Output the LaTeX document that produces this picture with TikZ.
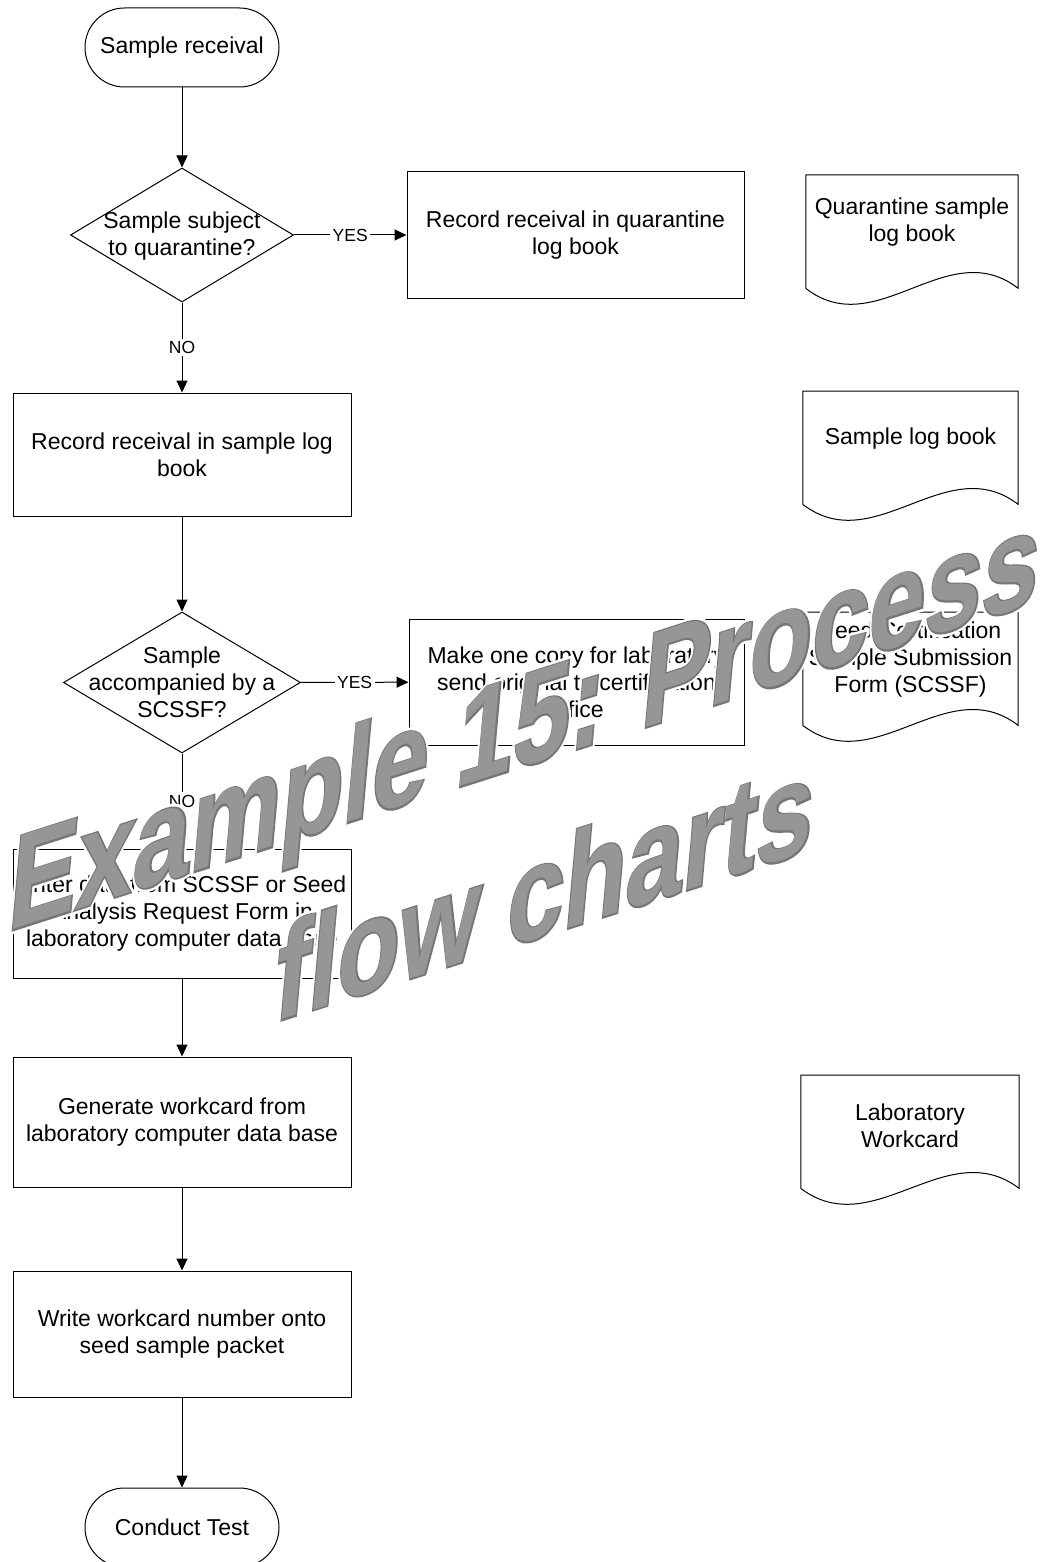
\documentclass[tikz,border=0pt]{standalone}
\usepackage{fontspec}
\setmainfont{Liberation Sans}
% three weights of the banner lettering: white halo, grey edge, grey face
\newfontfamily\wmhalofont{Liberation Sans}[BoldFeatures={FakeBold=6.5}]
\newfontfamily\wmedgefont{Liberation Sans}[BoldFeatures={FakeBold=2.4}]
\newfontfamily\wmfacefont{Liberation Sans}
\usetikzlibrary{shapes.geometric,arrows.meta,calc}

\definecolor{wmfill}{HTML}{969696}
\definecolor{wmline}{HTML}{767676}

% document symbol: frame taken from a named rectangle node, wavy bottom edge
\newcommand{\docsheet}[1]{%
  \draw[outline] (#1.south west) -- (#1.north west) -- (#1.north east) -- (#1.south east)
    .. controls ($(#1.south east)!1/3!(#1.south west)+(0,-55)$) and ($(#1.south west)!1/3!(#1.south east)+(0,55)$) .. (#1.south west);}

\begin{document}
\begin{tikzpicture}[x=1pt,y=-1pt,
  every node/.style={font=\fontsize{23}{27}\selectfont, align=center, inner sep=0pt},
  outline/.style={draw=black, line width=1pt},
  terminal/.style={outline, rectangle, rounded corners=39.5pt, minimum width=194pt, minimum height=79pt},
  procbox/.style={outline, rectangle, minimum width=#1},
  procbox/.default=338pt,
  decision/.style={outline, diamond},
  docframe/.style={rectangle, minimum height=113pt},
  flowline/.style={draw=black, line width=1pt, -{Triangle[length=12pt,width=11pt]}},
  edgelabel/.style={fill=white, inner sep=2.5pt, font=\fontsize{17.5}{20}\selectfont},
  wmtext/.style={transform shape, anchor=base west, inner sep=0pt},
  wmhalo/.style={wmtext, text=white, font=\fontsize{102}{102}\wmhalofont\bfseries},
  wmedge/.style={wmtext, text=wmline, font=\fontsize{102}{102}\wmedgefont\bfseries},
  wmface/.style={wmtext, text=wmfill, font=\fontsize{102}{102}\wmfacefont\bfseries},
  banner/.style={yslant=0.32, yscale=1.3, xslant=0.12},
]
\useasboundingbox (0,0) rectangle (1057,1562);
\clip (0,0) rectangle (1057,1562);
\fill[white] (0,0) rectangle (1057,1562);

% ---------- main column ----------
\node[terminal] (start) at (182,47.5) {Sample receival};

\node[decision, minimum width=223pt, minimum height=134pt] (quar) at (182,235) {};
\node (quartext) at (182,236) {Sample subject\\to quarantine?};

\node[procbox=337pt, minimum height=126pt] (qlog) at (575.5,235) {Record receival in quarantine\\log book};

\node[procbox, minimum height=123pt] (slog) at (182,454.5) {Record receival in sample log\\book};

\node[decision, minimum width=237pt, minimum height=141pt] (scssf) at (182,682.5) {};
\node (scssftext) at (182,682.5) {Sample\\accompanied by a\\SCSSF?};

\node[procbox=335pt, minimum height=126pt] (copy) at (576.5,682) {Make one copy for laboratory\\send original to certification\\office};

\node[procbox, minimum height=129pt] (enter) at (182,913.5) {Enter data from SCSSF or Seed\\Analysis Request Form in\\laboratory computer data base};

\node[procbox, minimum height=130pt] (gen) at (182,1122) {Generate workcard from\\laboratory computer data base};

\node[procbox, minimum height=126pt] (write) at (182,1334) {Write workcard number onto\\seed sample packet};

\node[terminal] (stop) at (182,1527.5) {Conduct Test};

% ---------- connectors ----------
\draw[flowline] (start) -- (quar);
\draw[flowline] (quar) -- node[edgelabel] (yes1) {YES} (qlog);
\draw[flowline] (quar) -- node[edgelabel] (no1) {NO} (slog);
\draw[flowline] (slog) -- (scssf);
\draw[flowline] (scssf) -- node[edgelabel] (yes2) {YES} (copy);
\draw[flowline] (scssf) -- node[edgelabel] (no2) {NO} (enter);
\draw[flowline] (enter) -- (gen);
\draw[flowline] (gen) -- (write);
\draw[flowline] (write) -- (stop);

% ---------- document symbols ----------
\node[docframe, minimum width=212pt, anchor=north] (qbook) at (912,175) {};
\docsheet{qbook}
\node (qbooktext) at ($(qbook.north)+(0,47)$) {Quarantine sample\\log book};

\node[docframe, minimum width=215pt, anchor=north] (sbook) at (910.5,391) {};
\docsheet{sbook}
\node (sbooktext) at ($(sbook.north)+(0,48)$) {Sample log book};

\node[docframe, minimum width=215pt, anchor=north] (form) at (910.5,612) {};
\docsheet{form}
\node (formtext) at ($(form.north)+(0,48)$) {Seed Certification\\Sample Submission\\Form (SCSSF)};

\node[docframe, minimum width=218pt, anchor=north] (card) at (910,1075) {};
\docsheet{card}
\node (cardtext) at ($(card.north)+(0,51)$) {Laboratory\\Workcard};

% ---------- banner lettering across the chart ----------
\begin{scope}[shift={(6,932)}, banner]
  \node[wmhalo] (wmonehalo) at (0,0) {Example 15: Process};
  \node[wmedge] (wmoneedge) at (0,0) {Example 15: Process};
  \node[wmface] (wmone) at (0,0) {Example 15: Process};
\end{scope}
\begin{scope}[shift={(272,1023)}, banner]
  \node[wmhalo] (wmtwohalo) at (0,0) {flow charts};
  \node[wmedge] (wmtwoedge) at (0,0) {flow charts};
  \node[wmface] (wmtwo) at (0,0) {flow charts};
\end{scope}
\end{tikzpicture}
\end{document}
